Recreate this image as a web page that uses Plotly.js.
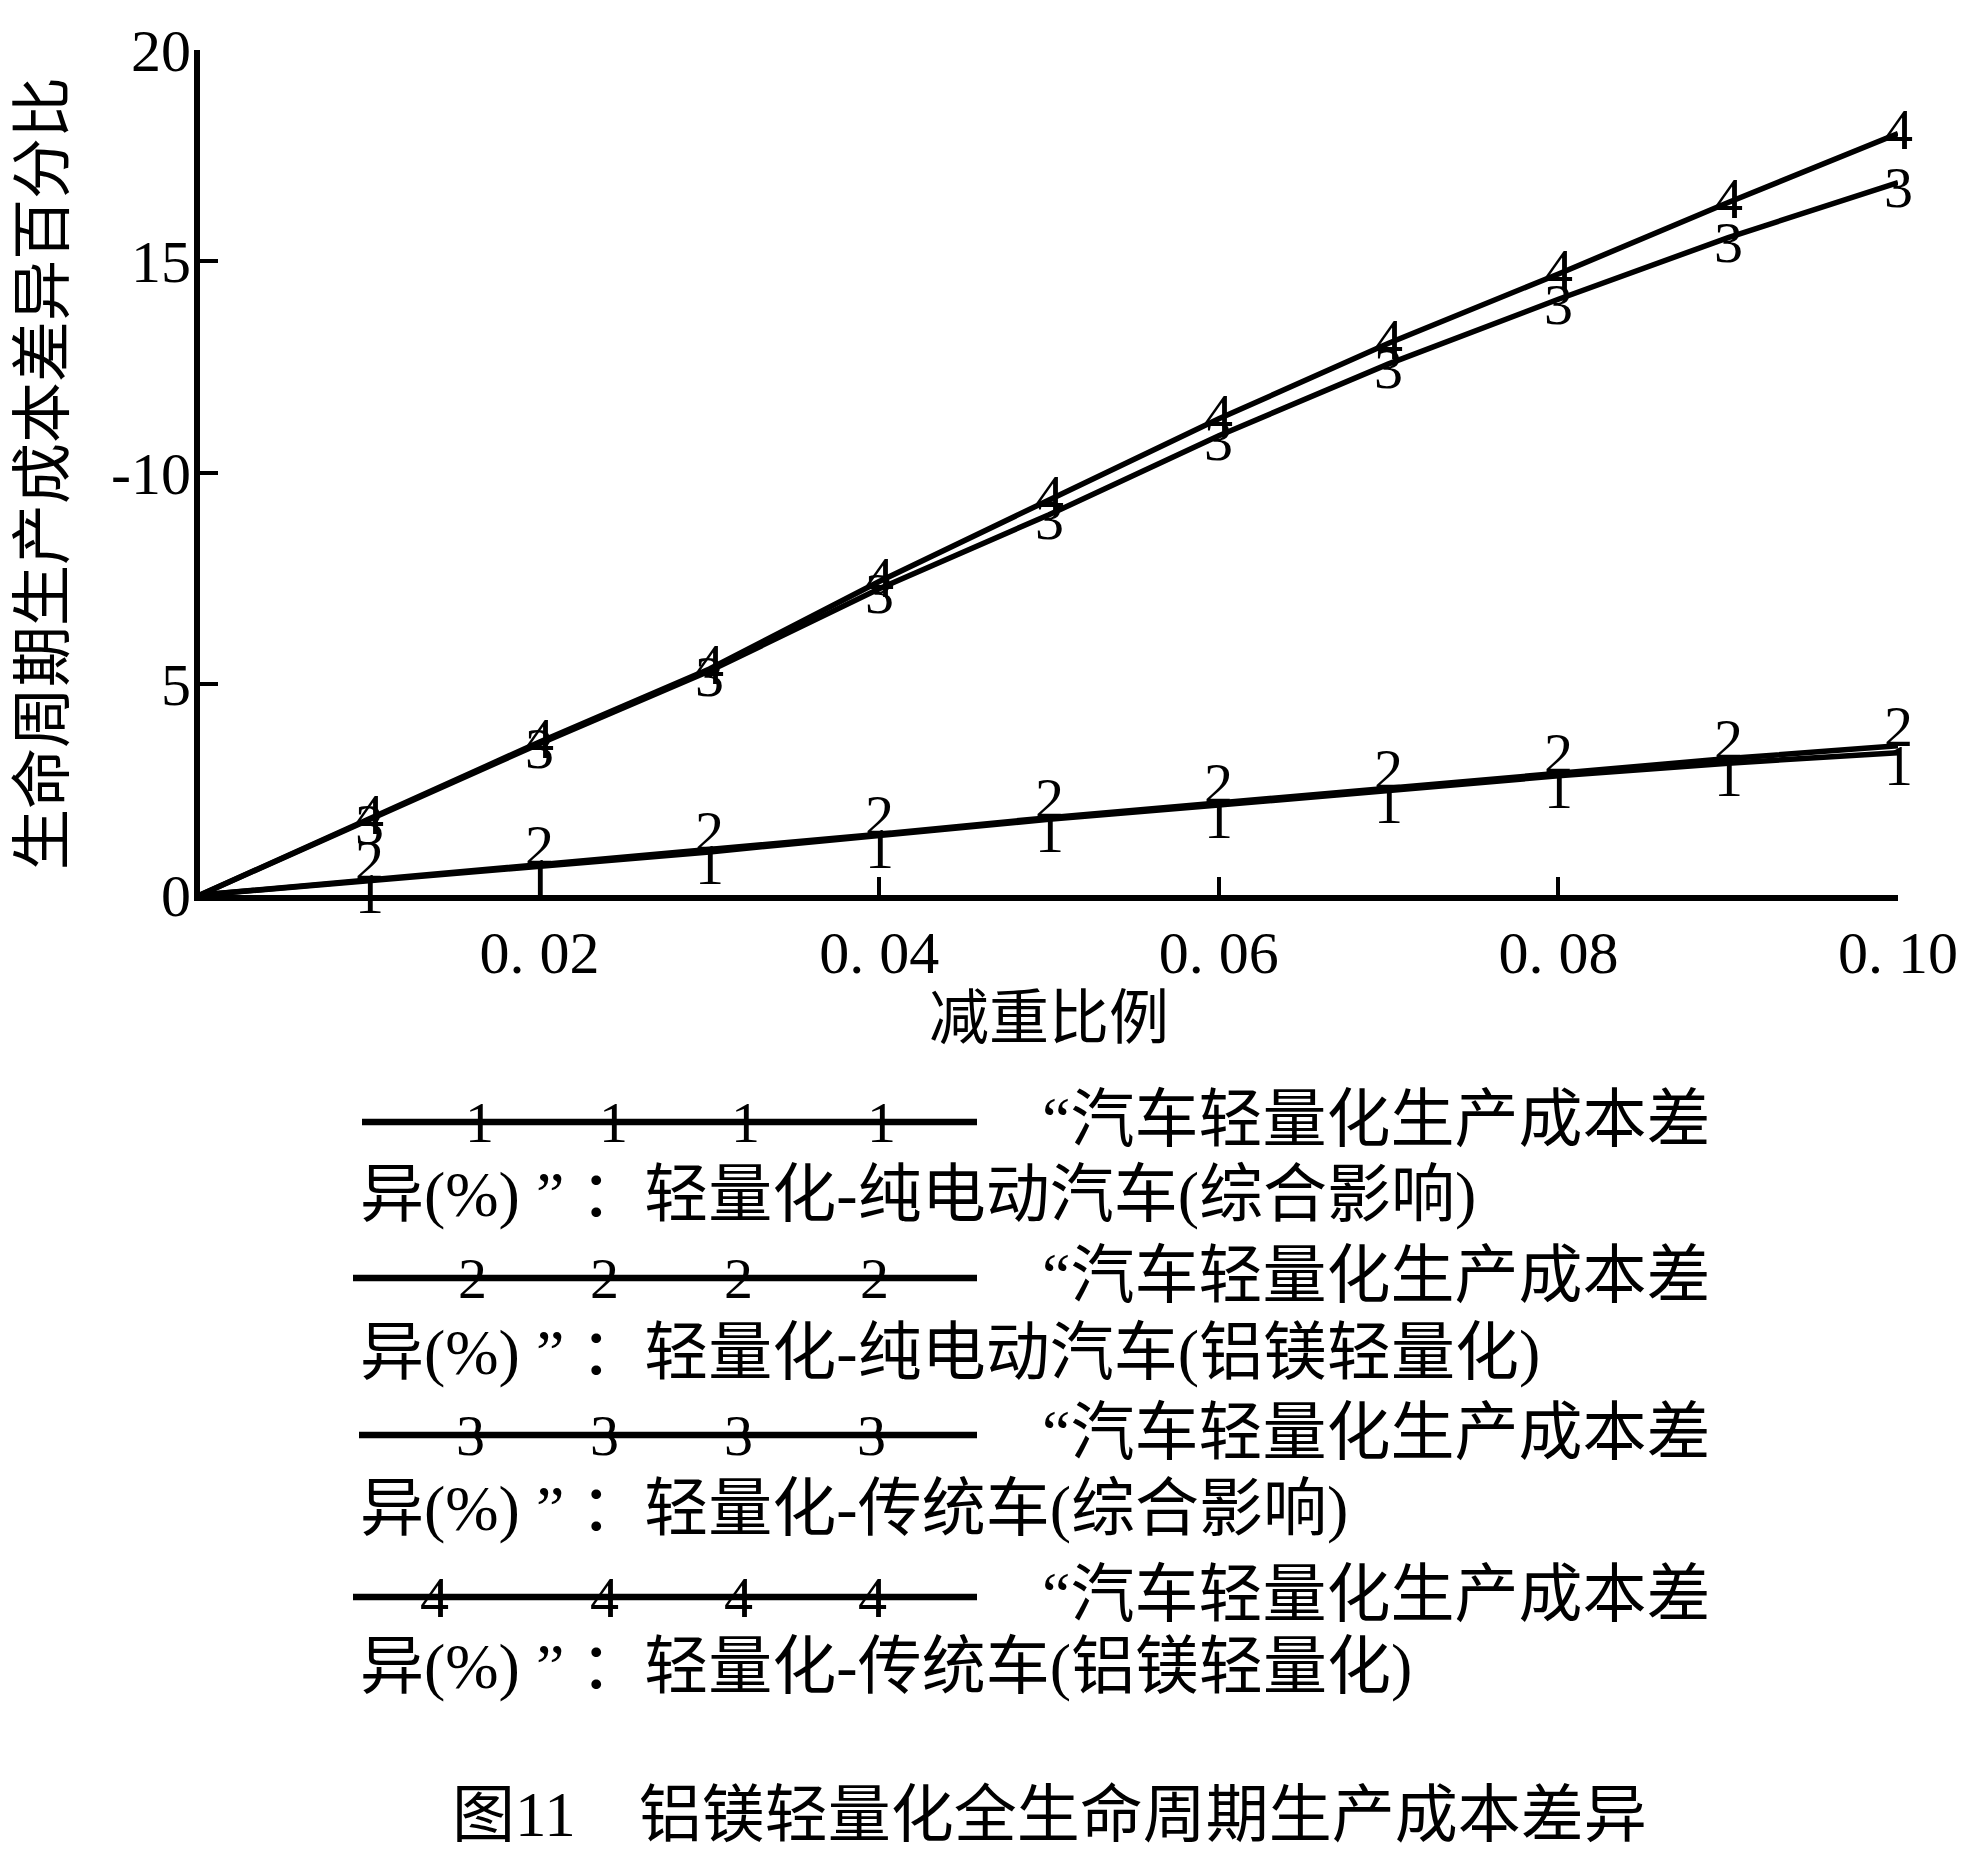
<!DOCTYPE html>
<html><head><meta charset="utf-8">
<script src="https://cdn.plot.ly/plotly-3.0.1.min.js"></script>
<style>html,body{margin:0;padding:0;background:#fff}</style>
</head><body>
<div id="chart" style="width:1963px;height:1856px"></div>
<script>
// ---- data ----
const xValues = [0, 0.01, 0.02, 0.03, 0.04, 0.05, 0.06, 0.07, 0.08, 0.09, 0.10];
const seriesIds = ['1', '2', '3', '4'];
const series1 = [0, 0.35, 0.70, 1.02, 1.41, 1.79, 2.13, 2.47, 2.82, 3.12, 3.37];
const series2 = [0, 0.36, 0.72, 1.05, 1.44, 1.83, 2.18, 2.53, 2.90, 3.23, 3.53];
const series3 = [0, 1.78, 3.58, 5.30, 7.25, 9.00, 10.87, 12.57, 14.10, 15.56, 16.86];
const series4 = [0, 1.80, 3.62, 5.35, 7.42, 9.35, 11.27, 13.06, 14.70, 16.39, 18.02];
const seriesNameRow1 = ['“汽车轻量化生产成本差', '“汽车轻量化生产成本差', '“汽车轻量化生产成本差', '“汽车轻量化生产成本差'];
const seriesNameRow2 = ['异(%) ” ：轻量化-纯电动汽车(综合影响)', '异(%) ” ：轻量化-纯电动汽车(铝镁轻量化)', '异(%) ” ：轻量化-传统车(综合影响)', '异(%) ” ：轻量化-传统车(铝镁轻量化)'];
const xTickVals = [0.02, 0.04, 0.06, 0.08, 0.10];
const xTickText = ['0. 02', '0. 04', '0. 06', '0. 08', '0. 10'];
const yTickVals = [0, 5, 10, 15, 20];
const yTickText = ['0', '5', '-10', '15', '20'];
const xTitle = '减重比例';
const yTitle = '生命周期生产成本差异百分比';
const caption = '图11\u3000铝镁轻量化全生命周期生产成本差异';

// ---- styling / layout ----
const W = 1963, H = 1856;
const M = {l: 200, r: 65, t: 50, b: 961};
const FONT = 'Liberation Serif, Noto Sans CJK SC, serif';
const plotW = W - M.l - M.r, plotH = H - M.t - M.b;
const px2x = px => (px - M.l) / plotW;
const py2y = py => (H - M.b - py) / plotH;

const allSeries = [series1, series2, series3, series4];
const markerShift = [-13, 19, -5, 4];

const traces = allSeries.map((ys, i) => ({
  x: xValues, y: ys, type: 'scatter', mode: 'lines',
  line: {color: '#000', width: 5.5}, showlegend: false, hoverinfo: 'none'
}));

const annotations = [];
// digit markers on curves (skip the origin point)
allSeries.forEach((ys, i) => {
  xValues.forEach((xv, j) => {
    if (j === 0) return;
    annotations.push({x: xv, y: ys[j], xref: 'x', yref: 'y', text: seriesIds[i],
      showarrow: false, xanchor: 'center', yanchor: 'middle', yshift: markerShift[i],
      font: {family: FONT, size: 58, color: '#000'}});
  });
});

// y-axis title (placed as rotated annotation to match the reference position)
annotations.push({x: px2x(44), y: py2y(474), xref: 'paper', yref: 'paper', text: yTitle,
  textangle: -90, showarrow: false, xanchor: 'center', yanchor: 'middle',
  font: {family: FONT, size: 61, color: '#000'}});

// custom legend
const legLineY = [1122, 1278, 1435, 1597];
const legLineX0 = [362, 353, 359, 353];
const legLineX1 = 977;
const legDigitX = [[479, 613, 745, 881], [472, 604, 738, 874], [470, 604, 738, 871], [434, 604, 738, 872]];
const legRow2Y = [1194, 1352, 1508, 1666];
const shapes = [];
seriesIds.forEach((id, i) => {
  shapes.push({type: 'line', xref: 'paper', yref: 'paper',
    x0: px2x(legLineX0[i]), x1: px2x(legLineX1), y0: py2y(legLineY[i]), y1: py2y(legLineY[i]),
    line: {color: '#000', width: 6.5}});
  legDigitX[i].forEach(dx => {
    annotations.push({x: px2x(dx), y: py2y(legLineY[i]), xref: 'paper', yref: 'paper', text: id,
      showarrow: false, xanchor: 'center', yanchor: 'middle',
      font: {family: FONT, size: 58, color: '#000'}});
  });
  annotations.push({x: px2x(1040), y: py2y(legLineY[i] - 3), xref: 'paper', yref: 'paper',
    text: seriesNameRow1[i], showarrow: false, xanchor: 'left', yanchor: 'middle',
    font: {family: FONT, size: 64, color: '#000'}});
  annotations.push({x: px2x(358), y: py2y(legRow2Y[i]), xref: 'paper', yref: 'paper',
    text: seriesNameRow2[i], showarrow: false, xanchor: 'left', yanchor: 'middle',
    font: {family: FONT, size: 64, color: '#000'}});
});
annotations.push({x: px2x(1049), y: py2y(1815), xref: 'paper', yref: 'paper', text: caption,
  showarrow: false, xanchor: 'center', yanchor: 'middle',
  font: {family: FONT, size: 63, color: '#000'}});

const axisCommon = {
  showline: true, linewidth: 6, linecolor: '#000', mirror: false,
  ticks: 'inside', ticklen: 18, tickwidth: 4, tickcolor: '#000',
  showgrid: false, zeroline: false, automargin: false, fixedrange: true,
  tickfont: {family: FONT, size: 60, color: '#000'}
};

const layout = {
  width: W, height: H, margin: M,
  paper_bgcolor: '#fff', plot_bgcolor: '#fff',
  font: {family: FONT, color: '#000'},
  showlegend: false,
  xaxis: Object.assign({}, axisCommon, {
    range: [0, 0.1], tickmode: 'array', tickvals: xTickVals, ticktext: xTickText,
    ticklabelstandoff: 0,
    title: {text: xTitle, font: {family: FONT, size: 60, color: '#000'}, standoff: 0}
  }),
  yaxis: Object.assign({}, axisCommon, {
    range: [0, 20], tickmode: 'array', tickvals: yTickVals, ticktext: yTickText,
    ticklabelstandoff: -9,
    title: {text: '', font: {family: FONT, size: 61, color: '#000'}}
  }),
  shapes: shapes,
  annotations: annotations
};

Plotly.newPlot('chart', traces, layout, {staticPlot: true, displayModeBar: false});
</script>
</body></html>
